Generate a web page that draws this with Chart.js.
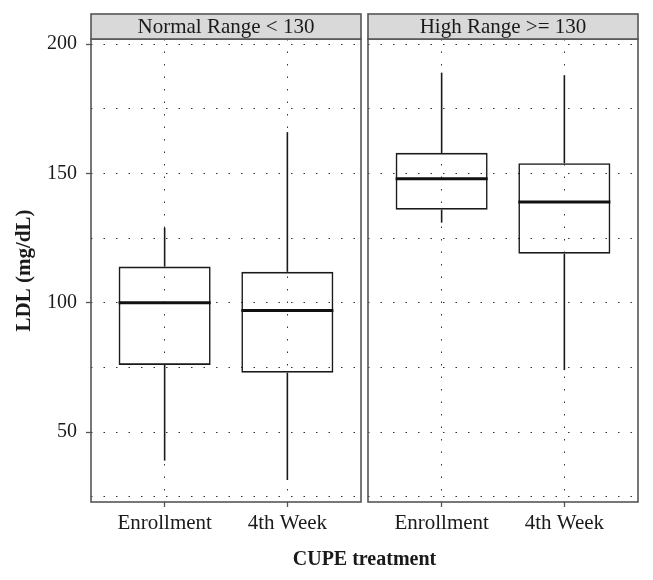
<!DOCTYPE html>
<html>
<head>
<meta charset="utf-8">
<title>LDL by CUPE treatment</title>
<script src="https://cdn.jsdelivr.net/npm/chart.js@4"></script>
<style>
  html, body { margin: 0; padding: 0; background: #fff; }
  #wrap { position: relative; width: 653px; height: 580px; overflow: hidden; }
  canvas { position: absolute; top: 0; }
  #c1 { left: 0; }
  #c2 { left: 365px; }
  #xtitle {
    position: absolute; left: 91px; width: 547px; top: 546px;
    text-align: center; font: bold 20px 'Liberation Serif', serif;
    line-height: 24px; color: #1a1a1a;
  }
</style>
</head>
<body>
<div id="wrap">
  <canvas id="c1" width="365" height="580"></canvas>
  <canvas id="c2" width="288" height="580"></canvas>
  <div id="xtitle">CUPE treatment</div>
</div>
<script>
/* ---- Data ---- */
const CATEGORIES = ['Enrollment', '4th Week'];
const PANELS     = ['Normal Range < 130', 'High Range >= 130'];

const NORMAL_MIN = [39, 31.5];
const NORMAL_Q1  = [76, 73];
const NORMAL_MED = [100, 97];
const NORMAL_Q3  = [114, 112];
const NORMAL_MAX = [129, 166];

const HIGH_MIN = [131, 74];
const HIGH_Q1  = [136, 119];
const HIGH_MED = [148, 139];
const HIGH_Q3  = [158, 154];
const HIGH_MAX = [189, 188];

const Y_GRID   = [25, 50, 75, 100, 125, 150, 175, 200];
const Y_LABELS = [50, 100, 150, 200];
const Y_MIN = 23, Y_MAX = 202;
const X_MIN = 0.4, X_MAX = 2.6;

/* ---- Style ---- */
const SERIF   = "'Liberation Serif', serif";
const INK     = '#1a1a1a';
const FRAME   = '#555';
const DOTS    = '#333';
const DOTDASH = [1.5, 11];

/* ---- Plugins: median line + facet frame/strip ---- */
const medianPlugin = {
  id: 'median',
  afterDatasetsDraw(chart, args, opts) {
    const ctx = chart.ctx, y = chart.scales.y;
    ctx.save();
    ctx.strokeStyle = '#111';
    ctx.lineWidth = 3;
    chart.getDatasetMeta(0).data.forEach((bar, i) => {
      const py = y.getPixelForValue(opts.values[i]);
      ctx.beginPath();
      ctx.moveTo(bar.x - bar.width / 2, py);
      ctx.lineTo(bar.x + bar.width / 2, py);
      ctx.stroke();
    });
    ctx.restore();
  }
};

const facetPlugin = {
  id: 'facet',
  afterDraw(chart, args, opts) {
    const ctx = chart.ctx, a = chart.chartArea;
    const stripTop = 14;
    ctx.save();
    ctx.lineWidth = 1.6;
    ctx.strokeStyle = FRAME;
    ctx.strokeRect(a.left, a.top, a.width, a.bottom - a.top);
    ctx.fillStyle = '#d9d9d9';
    ctx.fillRect(a.left, stripTop, a.width, a.top - stripTop);
    ctx.strokeRect(a.left, stripTop, a.width, a.top - stripTop);
    ctx.fillStyle = INK;
    ctx.font = '21px ' + SERIF;
    ctx.textAlign = 'center';
    ctx.textBaseline = 'middle';
    ctx.fillText(opts.label, (a.left + a.right) / 2, (stripTop + a.top) / 2 + 1);
    ctx.restore();
  }
};

function makePanel(id, label, s, showY, padding) {
  const pts = (lo, hi) => CATEGORIES.map((c, i) => ({ x: i + 1, y: [lo[i], hi[i]] }));
  const whisker = data => ({
    data, backgroundColor: INK, borderWidth: 0,
    grouped: false, maxBarThickness: 1.6
  });

  return new Chart(document.getElementById(id), {
    type: 'bar',
    data: {
      datasets: [
        {
          data: pts(s.q1, s.q3),
          backgroundColor: 'rgba(0,0,0,0)',
          borderColor: INK,
          borderWidth: 1.6,
          borderSkipped: false,
          grouped: false,
          barPercentage: 0.75,
          categoryPercentage: 1
        },
        whisker(pts(s.min, s.q1)),
        whisker(pts(s.q3, s.max))
      ]
    },
    options: {
      responsive: false,
      animation: false,
      layout: { padding },
      plugins: {
        legend: { display: false },
        tooltip: { enabled: false },
        median: { values: s.med },
        facet: { label }
      },
      scales: {
        x: {
          type: 'linear', min: X_MIN, max: X_MAX, offset: false,
          afterBuildTicks: sc => { sc.ticks = CATEGORIES.map((c, i) => ({ value: i + 1 })); },
          afterFit: sc => { sc.height = 78; },
          ticks: {
            autoSkip: false, maxRotation: 0, padding: 4,
            color: INK, font: { family: SERIF, size: 21 },
            callback: (v, i) => CATEGORIES[i]
          },
          grid: { offset: false, color: DOTS, lineWidth: 1, tickLength: 5, tickColor: FRAME, tickWidth: 1.3 },
          border: { display: false, dash: DOTDASH }
        },
        y: {
          type: 'linear', min: Y_MIN, max: Y_MAX,
          afterBuildTicks: sc => { sc.ticks = Y_GRID.map(v => ({ value: v })); },
          afterFit: sc => { sc.width = showY ? 91 : 0; },
          ticks: {
            display: showY, padding: 9,
            color: INK, font: { family: SERIF, size: 20 },
            callback: v => Y_LABELS.includes(v) ? v : ''
          },
          grid: {
            color: DOTS, lineWidth: 1, drawTicks: showY, tickLength: 5, tickWidth: 1.3,
            tickColor: c => (c.tick && Y_LABELS.includes(c.tick.value)) ? FRAME : 'rgba(0,0,0,0)'
          },
          border: { display: false, dash: DOTDASH },
          title: {
            display: showY, text: 'LDL (mg/dL)', color: INK,
            font: { family: SERIF, size: 21, weight: 'bold' },
            padding: { top: 12, bottom: 0 }
          }
        }
      }
    },
    plugins: [medianPlugin, facetPlugin]
  });
}

makePanel('c1', PANELS[0],
  { min: NORMAL_MIN, q1: NORMAL_Q1, med: NORMAL_MED, q3: NORMAL_Q3, max: NORMAL_MAX },
  true, { left: 0, right: 4, top: 39, bottom: 0 });

makePanel('c2', PANELS[1],
  { min: HIGH_MIN, q1: HIGH_Q1, med: HIGH_MED, q3: HIGH_Q3, max: HIGH_MAX },
  false, { left: 3, right: 15, top: 39, bottom: 0 });
</script>
</body>
</html>
